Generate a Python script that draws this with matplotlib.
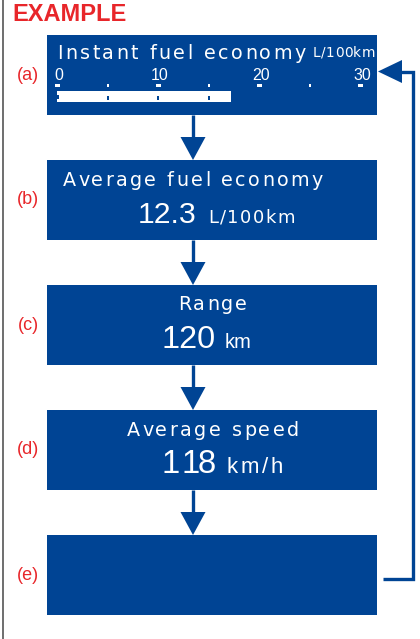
import matplotlib.pyplot as plt
from matplotlib.patches import Rectangle, Polygon
from matplotlib.font_manager import FontProperties

# data
step_labels = ["(a)", "(b)", "(c)", "(d)", "(e)"]
step_titles = ["Instant fuel economy", "Average fuel economy", "Range", "Average speed", ""]
step_values = ["", "12.3", "120", "118", ""]
step_units = ["L/100km", "L/100km", "km", "km/h", ""]
gauge_ticks = [0, 10, 20, 30]
gauge_minor = [5, 15, 25]
instant_value = 17.2

blue = "#004494"
red = "#e8262a"
disp = "DejaVu Sans"
num = "Liberation Sans"

fig = plt.figure(figsize=(4.2, 6.39), dpi=100)
ax = fig.add_axes([0, 0, 1, 1])
ax.set_xlim(0, 420)
ax.set_ylim(639, 0)
ax.axis("off")
renderer = fig.canvas.get_renderer()


def text_w(s, prop):
    return renderer.get_text_width_height_descent(s, prop, ismath=False)[0]


def spaced(x0, x1, y, s, size, family=disp, color="white"):
    # draw s on baseline y, letter-spaced to run from x0 to x1
    prop = FontProperties(family=family, size=size)
    full = text_w(s, prop)
    if full >= x1 - x0 or len(s) == 1:
        # too wide: shrink to fit and draw in one piece
        if full > x1 - x0:
            prop.set_size(size * (x1 - x0) / full)
        ax.text(x0, y, s, fontproperties=prop, color=color, ha="left", va="baseline")
        return
    ref = text_w("l", prop)
    offs = [text_w(s[:k] + "l", prop) - ref if k else 0 for k in range(len(s))]
    track = (x1 - x0 - full) / (len(s) - 1)
    for k, ch in enumerate(s):
        if ch == " ":
            continue
        ax.text(x0 + offs[k] + k * track, y, ch, fontproperties=prop, color=color,
                ha="left", va="baseline")


# left frame line
ax.plot([2.5, 2.5], [0, 639], color="#555555", lw=1.2)

ax.text(12, 21, "EXAMPLE", color=red, fontsize=17, fontweight="bold",
        family="Liberation Sans", va="baseline", ha="left")

box_x0, box_x1 = 47, 377
box_top = [35, 160, 285, 410, 535]
box_h = 80
arrow_x = 193

for i, lab in enumerate(step_labels):
    y0 = box_top[i]
    ax.add_patch(Rectangle((box_x0, y0), box_x1 - box_x0, box_h, color=blue, lw=0))
    ax.text(28, y0 + box_h / 2, lab, color=red, fontsize=13, family="Liberation Sans",
            ha="center", va="center")
    # down arrow to next box
    if i < len(step_labels) - 1:
        ax.plot([arrow_x, arrow_x], [y0 + box_h, y0 + box_h + 24], color=blue, lw=2.4,
                solid_capstyle="butt")
        ax.add_patch(Polygon([[arrow_x - 12.5, y0 + box_h + 22], [arrow_x + 12.5, y0 + box_h + 22],
                              [arrow_x, y0 + box_h + 45]], closed=True, color=blue, lw=0))

# text positions per box: title span, value span, unit span
title_span = [(57, 306), (63, 323), (178, 247), (127, 299)]
value_span = [None, (138, 197), (162, 216), (162, 216)]
unit_span = [(313, 375), (208, 295), (225, 252), (226, 283)]
unit_size = [9.8, 13, 15, 16]

for i in range(1, 4):
    y0 = box_top[i]
    spaced(*title_span[i], y0 + 25.5, step_titles[i], 13.8)
    spaced(*value_span[i], y0 + 63, step_values[i], 23.5, family=num)
    spaced(*unit_span[i], y0 + 63, step_units[i], unit_size[i],
           family=disp if i == 1 else num)

# instant fuel economy gauge in box (a)
y0 = box_top[0]
spaced(*title_span[0], y0 + 24, step_titles[0], 13.8)
spaced(*unit_span[0], y0 + 22, step_units[0], unit_size[0])


def gx(v):
    return 57 + v * 101 / 10


for v in gauge_ticks:
    ax.text(gx(v) + (1.5 if v == 0 else 2), y0 + 45, str(v), color="white", fontsize=11.5,
            family=num, ha="center", va="baseline")
    ax.add_patch(Rectangle((gx(v) - 2.5, y0 + 49), 5, 3, color="white", lw=0))
for v in gauge_minor:
    ax.add_patch(Rectangle((gx(v) - 1, y0 + 49), 2, 3, color="white", lw=0))
ax.add_patch(Rectangle((gx(0), y0 + 56), gx(instant_value) - gx(0), 11, color="white", lw=0))
for v in [5, 10, 15]:
    ax.add_patch(Rectangle((gx(v) - 1, y0 + 61), 2, 4, color=blue, lw=0))
ax.add_patch(Rectangle((gx(0), y0 + 60), 1.5, 4, color=blue, lw=0))

# return arrow from (e) back to (a)
ax.plot([383, 413, 413, 400], [579, 579, 71.5, 71.5], color=blue, lw=2.4,
        solid_joinstyle="miter", solid_capstyle="butt")
ax.add_patch(Polygon([[378, 71.5], [402, 60], [402, 83]], closed=True, color=blue, lw=0))

fig.savefig("out.png", dpi=100)
